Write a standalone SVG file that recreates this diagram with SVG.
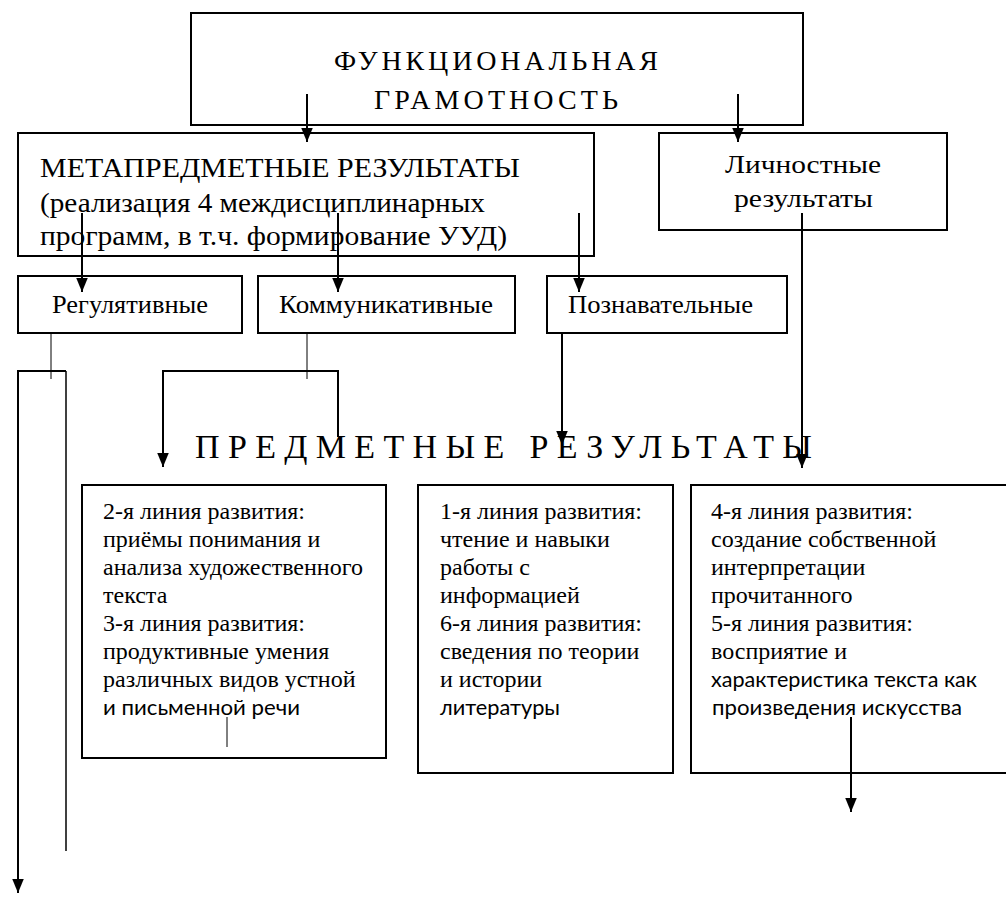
<svg xmlns="http://www.w3.org/2000/svg" width="1006" height="897" viewBox="0 0 1006 897">
<defs>
<style>
.box{fill:#fff;stroke:#000;stroke-width:2}
.serif{font-family:"Liberation Serif","Times New Roman",serif;fill:#000}
.sans{font-family:"Lato","Liberation Sans",sans-serif;fill:#000}
.t28{font-size:28px}
.t26{font-size:25px}
.t21{font-size:24px}
.s21{font-size:22px}
.arr{fill:none;stroke:#000;stroke-width:2;marker-end:url(#ah)}
.ln{fill:none;stroke:#000;stroke-width:1.5}
.thin{fill:none;stroke:#000;stroke-width:1}
</style>
<marker id="ah" markerUnits="userSpaceOnUse" markerWidth="14" markerHeight="18" viewBox="0 0 17 14" refX="17" refY="7" orient="auto">
<path d="M0,0 L17,7 L0,14 Z" fill="#000"/>
</marker>
</defs>
<rect width="1006" height="897" fill="#fff"/>

<g id="node-functional">
<rect class="box" x="191" y="13" width="612" height="112"/>
<text class="serif t28" x="334" y="70" textLength="324" lengthAdjust="spacing">ФУНКЦИОНАЛЬНАЯ</text>
<text class="serif t28" x="374" y="109" textLength="244" lengthAdjust="spacing">ГРАМОТНОСТЬ</text>
</g>

<g id="node-meta">
<rect class="box" x="18" y="133" width="576" height="123"/>
<text class="serif t28" x="40" y="177" textLength="480" lengthAdjust="spacingAndGlyphs">МЕТАПРЕДМЕТНЫЕ РЕЗУЛЬТАТЫ</text>
<text class="serif t28" x="40" y="212" textLength="445" lengthAdjust="spacingAndGlyphs">(реализация 4 междисциплинарных</text>
<text class="serif t28" x="40" y="245" textLength="467" lengthAdjust="spacingAndGlyphs">программ, в т.ч. формирование УУД)</text>
</g>

<g id="node-personal">
<rect class="box" x="659" y="133" width="288" height="97"/>
<text class="serif t26" x="725" y="173" textLength="156" lengthAdjust="spacingAndGlyphs">Личностные</text>
<text class="serif t26" x="734" y="207" textLength="139" lengthAdjust="spacingAndGlyphs">результаты</text>
</g>

<g id="node-regulative">
<rect class="box" x="18" y="276" width="224" height="57"/>
<text class="serif t26" x="52" y="313" textLength="156" lengthAdjust="spacingAndGlyphs">Регулятивные</text>
</g>

<g id="node-communicative">
<rect class="box" x="258" y="276" width="257" height="57"/>
<text class="serif t26" x="279" y="313" textLength="214" lengthAdjust="spacingAndGlyphs">Коммуникативные</text>
</g>

<g id="node-cognitive">
<rect class="box" x="547" y="276" width="240" height="57"/>
<text class="serif t26" x="568" y="313" textLength="185" lengthAdjust="spacingAndGlyphs">Познавательные</text>
</g>

<g id="node-subject-title">
<text class="serif" style="font-size:34px" x="195" y="458" textLength="617" lengthAdjust="spacing">ПРЕДМЕТНЫЕ РЕЗУЛЬТАТЫ</text>
</g>

<g id="node-lines-2-3">
<rect class="box" x="82" y="485" width="304" height="273"/>
<text class="serif t21" x="103" y="519">2-я линия развития:</text>
<text class="serif t21" x="103" y="547">приёмы понимания и</text>
<text class="serif t21" x="103" y="575">анализа художественного</text>
<text class="serif t21" x="103" y="603">текста</text>
<text class="serif t21" x="103" y="631">3-я линия развития:</text>
<text class="serif t21" x="103" y="659">продуктивные умения</text>
<text class="serif t21" x="103" y="687">различных видов устной</text>
<text class="sans s21" x="103" y="715" textLength="197" lengthAdjust="spacingAndGlyphs">и письменной речи</text>
</g>

<g id="node-lines-1-6">
<rect class="box" x="418" y="485" width="255" height="288"/>
<text class="serif t21" x="440" y="519">1-я линия развития:</text>
<text class="serif t21" x="440" y="547">чтение и навыки</text>
<text class="serif t21" x="440" y="575">работы с</text>
<text class="serif t21" x="440" y="603">информацией</text>
<text class="serif t21" x="440" y="631">6-я линия развития:</text>
<text class="serif t21" x="440" y="659">сведения по теории</text>
<text class="serif t21" x="440" y="687">и истории</text>
<text class="sans s21" x="440" y="715" textLength="120" lengthAdjust="spacingAndGlyphs">литературы</text>
</g>

<g id="node-lines-4-5">
<rect class="box" x="691" y="485" width="320" height="288"/>
<text class="serif t21" x="711" y="519">4-я линия развития:</text>
<text class="serif t21" x="711" y="547">создание собственной</text>
<text class="serif t21" x="711" y="575">интерпретации</text>
<text class="serif t21" x="711" y="603">прочитанного</text>
<text class="serif t21" x="711" y="631">5-я линия развития:</text>
<text class="serif t21" x="711" y="659">восприятие и</text>
<text class="sans s21" x="711" y="687" textLength="266" lengthAdjust="spacingAndGlyphs">характеристика текста как</text>
<text class="sans s21" x="712" y="715" textLength="250" lengthAdjust="spacingAndGlyphs">произведения искусства</text>
</g>

<g id="connectors">
<path class="arr" d="M307,94 V142"/>
<path class="arr" d="M738,94 V142"/>
<path class="arr" d="M82,213 V292"/>
<path class="arr" d="M338,213 V292"/>
<path class="arr" d="M579,213 V292"/>
<path class="arr" d="M802,213 V468"/>
<path class="arr" d="M562,332 V445"/>
<path class="thin" d="M307,333 V379"/>
<path class="arr" d="M338,437 V371 H163 V467"/>
<path class="thin" d="M51,333 V379"/>
<path class="ln" d="M66,851 V371"/>
<path class="arr" d="M66,371 H18 V893"/>
<path class="thin" d="M227,717 V747"/>
<path class="arr" d="M851,717 V812"/>
</g>
</svg>
